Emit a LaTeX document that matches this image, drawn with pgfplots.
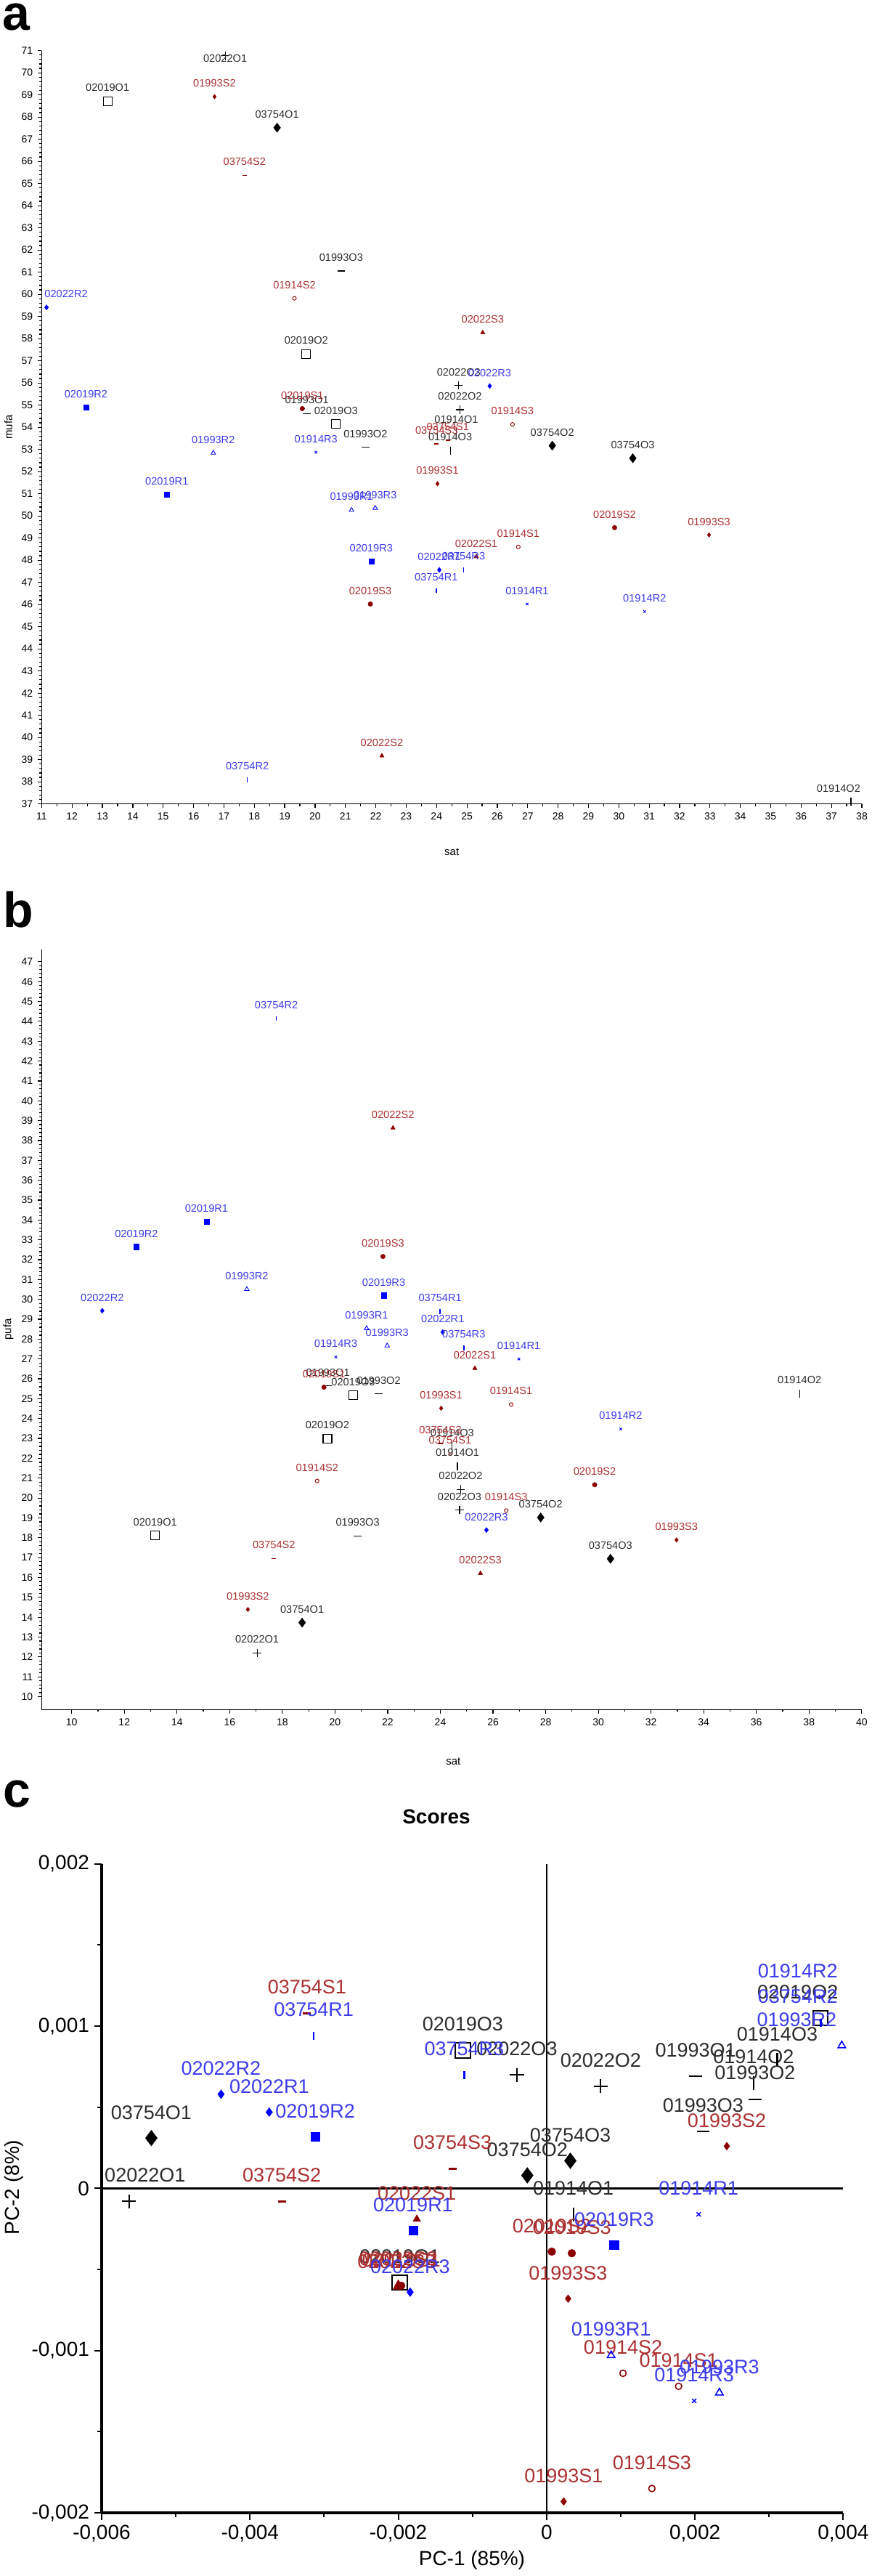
\documentclass[border=0pt]{standalone}
\usepackage{fontspec}
\setmainfont{Liberation Sans}
\usepackage{pgfplots}
\pgfplotsset{compat=1.18}
\definecolor{labO}{RGB}{45,45,45}
\definecolor{labS}{RGB}{172,48,48}
\definecolor{labR}{RGB}{60,60,235}
\definecolor{mkS}{RGB}{140,0,0}
\definecolor{mkR}{RGB}{0,0,255}
\pgfplotsset{
 gO/.style={color=black, every node near coord/.append style={text=labO}},
 gS/.style={color=mkS, every node near coord/.append style={text=labS}},
 gR/.style={color=mkR, every node near coord/.append style={text=labR}},
 k01914O/.style={gO, mark=|, mark size=#1*2.8pt, mark options={solid, line width=#1*0.6pt}},
 k01993O/.style={gO, mark=-, mark size=#1*2.6pt, mark options={solid, line width=#1*0.6pt}},
 k02019O/.style={gO, mark=square, mark size=#1*3.0pt, mark options={solid, line width=#1*0.6pt}},
 k02022O/.style={gO, mark=+, mark size=#1*2.8pt, mark options={solid, line width=#1*0.55pt}},
 k03754O/.style={gO, mark=diamond*, mark size=#1*3.2pt, mark options={solid, line width=0.2pt}},
 k01914S/.style={gS, mark=o, mark size=#1*1.3pt, mark options={solid, line width=#1*0.45pt}},
 k01993S/.style={gS, mark=diamond*, mark size=#1*1.6pt, mark options={solid, line width=0.2pt}},
 k02019S/.style={gS, mark=*, mark size=#1*1.6pt, mark options={solid, line width=0.2pt}},
 k02022S/.style={gS, mark=triangle*, mark size=#1*1.8pt, mark options={solid, line width=0.2pt}},
 k03754S/.style={gS, mark=-, mark size=#1*1.6pt, mark options={solid, line width=#1*0.8pt}},
 k01914R/.style={gR, mark=x, mark size=#1*1.2pt, mark options={solid, line width=#1*0.45pt}},
 k01993R/.style={gR, mark=triangle, mark size=#1*1.8pt, mark options={solid, line width=#1*0.45pt}},
 k02019R/.style={gR, mark=square*, mark size=#1*1.8pt, mark options={solid, line width=0.2pt}},
 k02022R/.style={gR, mark=diamond*, mark size=#1*1.8pt, mark options={solid, line width=0.2pt}},
 k03754R/.style={gR, mark=|, mark size=#1*1.6pt, mark options={solid, line width=#1*0.75pt}},
 panelab/.style={scale only axis, clip=false, only marks,
   axis x line*=bottom, axis y line*=left, axis line style={line width=0.8pt},
   tick align=outside, major tick length=2.6pt, minor tick length=1.5pt,
   tick style={black, line width=0.6pt},
   tick label style={font=\fontsize{7}{8}\selectfont},
   label style={font=\fontsize{7.5}{9}\selectfont},
   /pgf/number format/assume math mode=true,
   point meta=explicit symbolic, nodes near coords, nodes near coords align={above},
   every node near coord/.append style={font=\fontsize{7.3}{8}\selectfont, inner sep=0pt, yshift=6.4pt}},
}
\begin{document}
\begin{tikzpicture}
\path[use as bounding box] (0,0) rectangle (600pt,-1773pt);
\node[inner sep=0pt, font=\fontsize{34}{36}\selectfont\bfseries] at (11pt,-11.75pt) {a};
\node[inner sep=0pt, font=\fontsize{34}{36}\selectfont\bfseries] at (12.5pt,-626.25pt) {b};
\node[inner sep=0pt, font=\fontsize{34}{36}\selectfont\bfseries] at (11.5pt,-1235pt) {c};

% ---------------- panel a ----------------
\begin{axis}[panelab, at={(28.7pt,-553.3pt)}, anchor=south west,
  width=564.8pt, height=518.5pt,
  xmin=11, xmax=38, ymin=37, ymax=71,
  xtick distance=1, ytick distance=1, minor x tick num=1, minor y tick num=4,
  xlabel={sat}, ylabel={mufa},
  xlabel style={at={(axis description cs:0.5,-0.0637)}, anchor=center},
  ylabel style={at={(axis description cs:-0.0406,0.5)}, anchor=center}]
\addplot[k01914O=1] coordinates {(24.65,53.75) [01914O1] (37.64,37.10) [01914O2\hspace*{17pt}] (24.45,52.95) [01914O3]};
\addplot[k01993O=1] coordinates {(19.73,54.62) [01993O1] (21.66,53.10) [01993O2] (20.86,61.05) [01993O3]};
\addplot[k02019O=1] coordinates {(13.17,68.72) [02019O1] (19.71,57.30) [02019O2] (20.69,54.14) [02019O3]};
\addplot[k02022O=1] coordinates {(17.04,70.76) [\smash{\raisebox{-11.5pt}{02022O1}}] (24.77,54.79) [02022O2] (24.73,55.88) [02022O3]};
\addplot[k03754O=1] coordinates {(18.75,67.52) [03754O1] (27.81,53.17) [03754O2] (30.46,52.60) [03754O3]};
\addplot[k01914S=1] coordinates {(26.69,48.60) [01914S1] (19.32,59.82) [01914S2] (26.50,54.13) [01914S3]};
\addplot[k01993S=1] coordinates {(24.03,51.45) [01993S1] (16.69,68.92) [01993S2] (32.97,49.14) [01993S3]};
\addplot[k02019S=1] coordinates {(19.58,54.84) [02019S1] (29.86,49.47) [02019S2] (21.82,46.02) [02019S3]};
\addplot[k02022S=1] coordinates {(25.31,48.16) [02022S1] (22.20,39.17) [02022S2] (25.52,58.27) [02022S3]};
\addplot[k03754S=1] coordinates {(24.37,53.41) [03754S1] (17.68,65.37) [03754S2] (24.00,53.25) [03754S3]};
\addplot[k01914R=1] coordinates {(26.98,46.02) [01914R1] (30.85,45.68) [01914R2] (20.03,52.87) [01914R3]};
\addplot[k01993R=1] coordinates {(21.20,50.26) [01993R1] (16.65,52.84) [01993R2] (21.98,50.35) [01993R3]};
\addplot[k02019R=1] coordinates {(15.12,50.97) [02019R1] (12.46,54.89) [02019R2] (21.85,47.95) [02019R3]};
\addplot[k02022R=1] coordinates {(24.09,47.56) [02022R1] (11.16,59.41) [\hspace*{27pt}02022R2] (25.75,55.86) [02022R3]};
\addplot[k03754R=1] coordinates {(23.99,46.63) [03754R1] (17.77,38.08) [03754R2] (24.89,47.56) [03754R3]};
\end{axis}

% ---------------- panel b ----------------
\begin{axis}[panelab, at={(28.7pt,-1176.65pt)}, anchor=south west,
  width=564.7pt, height=523.35pt,
  xmin=8.86, xmax=40, ymin=9.35, ymax=47.63,
  xtick={10,12,...,40}, ytick={10,11,...,47}, minor x tick num=1, minor y tick num=4,
  xlabel={sat}, ylabel={pufa},
  xlabel style={at={(axis description cs:0.502,-0.068)}, anchor=center},
  ylabel style={at={(axis description cs:-0.0406,0.5)}, anchor=center}]
\addplot[k01914O=1] coordinates {(24.65,21.60) [01914O1] (37.64,25.26) [01914O2] (24.45,22.60) [01914O3]};
\addplot[k01993O=1] coordinates {(19.73,25.65) [01993O1] (21.66,25.24) [01993O2] (20.86,18.09) [01993O3]};
\addplot[k02019O=1] coordinates {(13.17,18.11) [02019O1] (19.71,22.99) [02019O2] (20.69,25.17) [02019O3]};
\addplot[k02022O=1] coordinates {(17.04,12.20) [02022O1] (24.77,20.44) [02022O2] (24.73,19.39) [02022O3]};
\addplot[k03754O=1] coordinates {(18.75,13.73) [03754O1] (27.81,19.02) [03754O2] (30.46,16.94) [03754O3]};
\addplot[k01914S=1] coordinates {(26.69,24.71) [01914S1] (19.32,20.86) [01914S2] (26.50,19.37) [01914S3]};
\addplot[k01993S=1] coordinates {(24.03,24.52) [01993S1] (16.69,14.39) [01993S2] (32.97,17.89) [01993S3]};
\addplot[k02019S=1] coordinates {(19.58,25.58) [02019S1] (29.86,20.67) [02019S2] (21.82,32.16) [02019S3]};
\addplot[k02022S=1] coordinates {(25.31,26.53) [02022S1] (22.20,38.63) [02022S2] (25.52,16.21) [02022S3]};
\addplot[k03754S=1] coordinates {(24.37,22.22) [03754S1] (17.68,16.95) [03754S2] (24.00,22.75) [03754S3]};
\addplot[k01914R=1] coordinates {(26.98,27.00) [01914R1] (30.85,23.47) [01914R2] (20.03,27.10) [01914R3]};
\addplot[k01993R=1] coordinates {(21.20,28.54) [01993R1] (16.65,30.51) [01993R2] (21.98,27.67) [01993R3]};
\addplot[k02019R=1] coordinates {(15.12,33.91) [02019R1] (12.46,32.65) [02019R2] (21.85,30.20) [02019R3]};
\addplot[k02022R=1] coordinates {(24.09,28.35) [02022R1] (11.16,29.43) [02022R2] (25.75,18.39) [02022R3]};
\addplot[k03754R=1] coordinates {(23.99,29.38) [03754R1] (17.77,44.15) [03754R2] (24.89,27.55) [03754R3]};
\end{axis}

% ---------------- panel c ----------------
\begin{axis}[scale only axis, clip=false, only marks,
  at={(70pt,-1729.5pt)}, anchor=south west, width=510.7pt, height=446.65pt,
  xmin=-0.006, xmax=0.004, ymin=-0.002, ymax=0.002,
  axis x line*=bottom, axis y line*=left, axis line style={line width=2pt},
  tick align=outside, major tick length=5pt, minor tick length=3pt,
  tick style={black, line width=1pt},
  xtick={-0.006,-0.004,-0.002,0,0.002,0.004},
  minor xtick={-0.005,-0.003,-0.001,0.001,0.003},
  ytick={-0.002,-0.001,0,0.001,0.002},
  minor ytick={-0.0015,-0.0005,0.0005,0.0015},
  scaled ticks=false,
  tick label style={font=\fontsize{14}{16}\selectfont, /pgf/number format/.cd, fixed, precision=3, use comma, assume math mode=true},
  title={Scores},
  title style={at={(axis description cs:0.4513,1.059)}, anchor=center, font=\fontsize{14}{16}\selectfont\bfseries},
  xlabel={PC-1 (85\%)}, ylabel={PC-2 (8\%)},
  label style={font=\fontsize{14}{16}\selectfont},
  xlabel style={at={(axis description cs:0.4993,-0.0728)}, anchor=center},
  ylabel style={at={(axis description cs:-0.1185,0.5015)}, anchor=center},
  point meta=explicit symbolic, nodes near coords, nodes near coords align={above},
  visualization depends on={value \thisrow{dx} \as \dx},
  every node near coord/.append style={font=\fontsize{13.5}{15}\selectfont, inner sep=0pt, yshift=12.7pt, xshift=\dx*1pt}]
\draw[line width=1.2pt] (axis cs:-0.006,0) -- (axis cs:0.004,0);
\draw[line width=0.8pt] (axis cs:0,-0.002) -- (axis cs:0,0.002);
\addplot[k01914O=1.7] table[row sep=\\, meta=lab]{x y lab dx\\ 0.00036 -0.00016 01914O1 0\\ 0.00279 0.00065 01914O2 0\\ 0.00311 0.00079 01914O3 0\\};
\addplot[k01993O=1.7] table[row sep=\\, meta=lab]{x y lab dx\\ 0.00201 0.00069 01993O1 0\\ 0.00281 0.00055 01993O2 0\\ 0.00211 0.00035 01993O3 0\\};
\addplot[k02019O=1.7] table[row sep=\\, meta=lab]{x y lab dx\\ -0.00198 -0.00058 02019O1 0\\ 0.00369 0.00105 02019O2 -15.5\\ -0.00113 0.00085 02019O3 0\\};
\addplot[k02022O=1.7] table[row sep=\\, meta=lab]{x y lab dx\\ -0.00563 -0.00008 02022O1 11\\ 0.00073 0.00063 02022O2 0\\ -0.00040 0.00070 02022O3 0\\};
\addplot[k03754O=1.7] table[row sep=\\, meta=lab]{x y lab dx\\ -0.00533 0.00031 03754O1 0\\ -0.00026 0.00008 03754O2 0\\ 0.00032 0.00017 03754O3 0\\};
\addplot[k01914S=1.7] table[row sep=\\, meta=lab]{x y lab dx\\ 0.00178 -0.00122 01914S1 0\\ 0.00103 -0.00114 01914S2 0\\ 0.00142 -0.00185 01914S3 0\\};
\addplot[k01993S=1.7] table[row sep=\\, meta=lab]{x y lab dx\\ 0.00023 -0.00193 01993S1 0\\ 0.00243 0.00026 01993S2 0\\ 0.00029 -0.00068 01993S3 0\\};
\addplot[k02019S=1.7] table[row sep=\\, meta=lab]{x y lab dx\\ -0.00196 -0.00060 02019S1 0\\ 0.00007 -0.00039 02019S2 0\\ 0.00034 -0.00040 02019S3 0\\};
\addplot[k02022S=1.7] table[row sep=\\, meta=lab]{x y lab dx\\ -0.00175 -0.00019 02022S1 0\\ -0.00200 -0.00059 02022S2 0\\ -0.00202 -0.00061 02022S3 0\\};
\addplot[k03754S=1.7] table[row sep=\\, meta=lab]{x y lab dx\\ -0.00323 0.00108 03754S1 0\\ -0.00357 -0.00008 03754S2 0\\ -0.00127 0.00012 03754S3 0\\};
\addplot[k01914R=1.7] table[row sep=\\, meta=lab]{x y lab dx\\ 0.00205 -0.00016 01914R1 0\\ 0.00370 0.00118 01914R2 -16\\ 0.00199 -0.00131 01914R3 0\\};
\addplot[k01993R=1.7] table[row sep=\\, meta=lab]{x y lab dx\\ 0.00087 -0.00103 01993R1 0\\ 0.00398 0.00088 01993R2 -31\\ 0.00233 -0.00126 01993R3 0\\};
\addplot[k02019R=1.7] table[row sep=\\, meta=lab]{x y lab dx\\ -0.00180 -0.00026 02019R1 0\\ -0.00312 0.00032 02019R2 0\\ 0.00091 -0.00035 02019R3 0\\};
\addplot[k02022R=1.7] table[row sep=\\, meta=lab]{x y lab dx\\ -0.00374 0.00047 02022R1 0\\ -0.00439 0.00058 02022R2 0\\ -0.00184 -0.00064 02022R3 0\\};
\addplot[k03754R=1.7] table[row sep=\\, meta=lab]{x y lab dx\\ -0.00314 0.00094 03754R1 0\\ 0.00370 0.00102 03754R2 -16\\ -0.00111 0.00070 03754R3 0\\};
\end{axis}
\end{tikzpicture}
\end{document}
